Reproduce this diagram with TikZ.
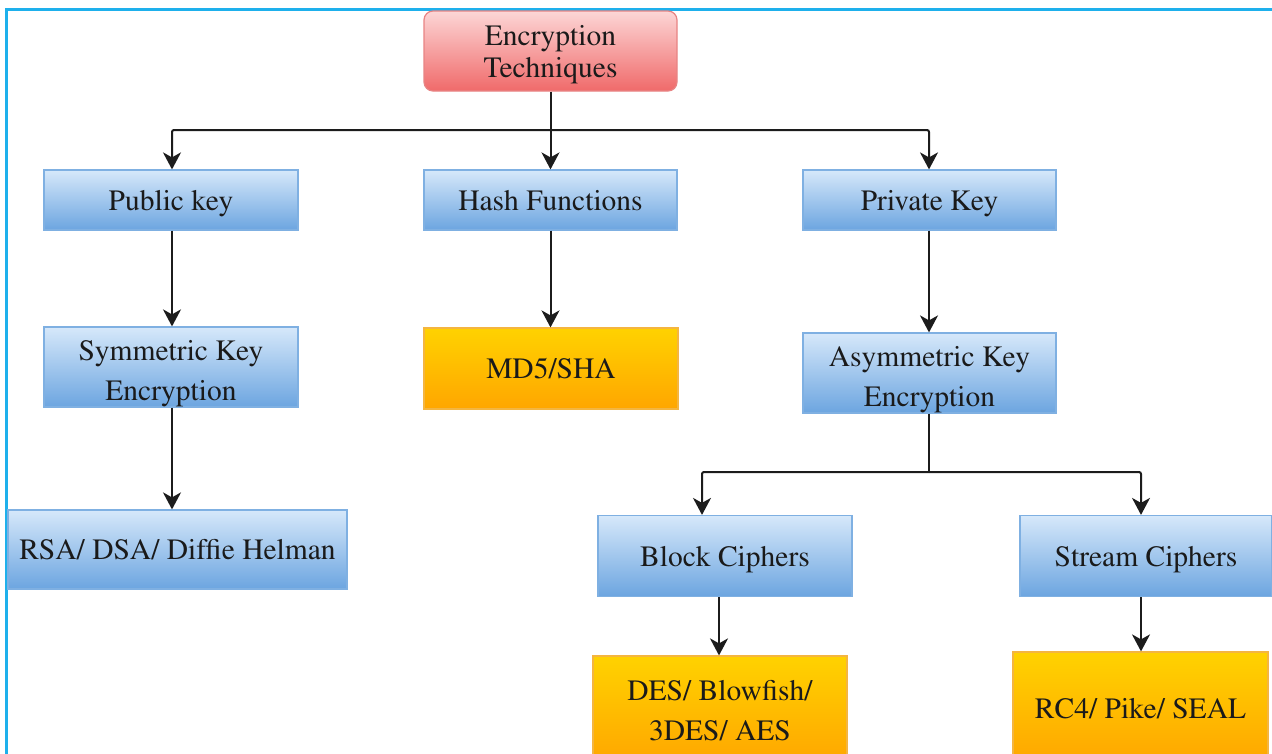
\documentclass[tikz,border=0pt]{standalone}
\usepackage[T1]{fontenc}
\usepackage{times}
\usetikzlibrary{arrows.meta}
\definecolor{bordercyan}{HTML}{1EB0EC}
\definecolor{blueTop}{HTML}{D6E8FA}
\definecolor{blueMid}{HTML}{A9CBF0}
\definecolor{blueBot}{HTML}{6CA5E0}
\definecolor{blueLine}{HTML}{7FB0E2}
\definecolor{redTop}{HTML}{FCD6D6}
\definecolor{redMid}{HTML}{F7A0A0}
\definecolor{redBot}{HTML}{F06A6A}
\definecolor{redLine}{HTML}{E88484}
\definecolor{orTop}{HTML}{FFD200}
\definecolor{orMid}{HTML}{FFBE00}
\definecolor{orBot}{HTML}{FFA600}
\definecolor{orLine}{HTML}{F4B540}
\definecolor{txt}{HTML}{1A1A1A}
\definecolor{wire}{HTML}{1C1C1C}
\begin{document}
\begin{tikzpicture}[x=1pt,y=-1pt,
  box/.style={rectangle, inner sep=0pt, align=center, text=txt,
    font=\fontsize{29.5}{40}\selectfont, line width=1.2pt,
    text height=26pt, text depth=6pt},
  twoline/.style={text height=72pt, text depth=6pt},
  bluebox/.style={box, draw=blueLine, top color=blueTop, middle color=blueMid, bottom color=blueBot},
  orangebox/.style={box, draw=orLine, top color=orTop, middle color=orMid, bottom color=orBot},
  redbox/.style={box, draw=redLine, top color=redTop, middle color=redMid, bottom color=redBot,
    rounded corners=9pt, font=\fontsize{29.5}{32}\selectfont},
  link/.style={line width=2pt, wire, rounded corners=2pt},
  conn/.style={link, -{Stealth[length=17pt,width=18pt,inset=5pt]}},
]
\useasboundingbox (0,0) rectangle (1272,753);
\fill[white] (0,0) rectangle (1272,753);
\draw[bordercyan, line width=3pt] (6.3,760) -- (6.3,9) -- (1280,9);

\node[redbox, text height=58pt, minimum width=253pt, minimum height=80pt] (top) at (550.5,51) {Encryption\\Techniques};

\node[bluebox, minimum width=254pt, minimum height=60pt] (pub) at (171,200) {Public key};
\node[bluebox, minimum width=253pt, minimum height=60pt] (hash) at (550.5,200) {Hash Functions};
\node[bluebox, minimum width=253pt, minimum height=60pt] (priv) at (929.5,200) {Private Key};

\node[bluebox, twoline, minimum width=254pt, minimum height=80pt] (sym) at (171,367) {Symmetric Key\\Encryption};
\node[orangebox, minimum width=254pt, minimum height=81pt] (md5) at (551,368.5) {MD5/SHA};
\node[bluebox, twoline, minimum width=253pt, minimum height=80pt] (asym) at (929.5,373) {Asymmetric Key\\Encryption};

\node[bluebox, minimum width=339pt, minimum height=79pt] (rsa) at (177.5,549.5) {RSA/ DSA/ Diffie Helman};
\node[bluebox, minimum width=254pt, minimum height=81pt] (block) at (725,556) {Block Ciphers};
\node[bluebox, minimum width=252pt, minimum height=81pt] (stream) at (1146,556) {Stream Ciphers};

\node[orangebox, text height=66pt, minimum width=254pt, minimum height=108pt] (des) at (720,710) {DES/ Blowfish/\\3DES/ AES};
\node[orangebox, minimum width=255pt, minimum height=112pt] (rc4) at (1140.5,708) {RC4/ Pike/ SEAL};

% top level
\coordinate (busL) at (172,130);
\coordinate (busR) at (929,130);
\draw[conn] (top.south) -- (hash.north);
\draw[conn] (top.south |- busL) -- (busL) -- (busL |- pub.north);
\draw[conn] (top.south |- busR) -- (busR) -- (busR |- priv.north);

% second level
\draw[conn] (busL |- pub.south) -- (busL |- sym.north);
\draw[conn] (busL |- sym.south) -- (busL |- rsa.north);
\draw[conn] (hash.south) -- (hash.south |- md5.north);
\draw[conn] (busR |- priv.south) -- (busR |- asym.north);

% asymmetric branch
\coordinate (jL) at (702,472);
\coordinate (jR) at (1141,472);
\draw[link] (busR |- asym.south) -- (busR |- jL);
\draw[conn] (busR |- jL) -- (jL) -- (jL |- block.north);
\draw[conn] (busR |- jR) -- (jR) -- (jR |- stream.north);

% leaves
\coordinate (bd) at (719,600);
\draw[conn] (bd |- block.south) -- (bd |- des.north);
\draw[conn] (jR |- stream.south) -- (jR |- rc4.north);
\end{tikzpicture}
\end{document}
